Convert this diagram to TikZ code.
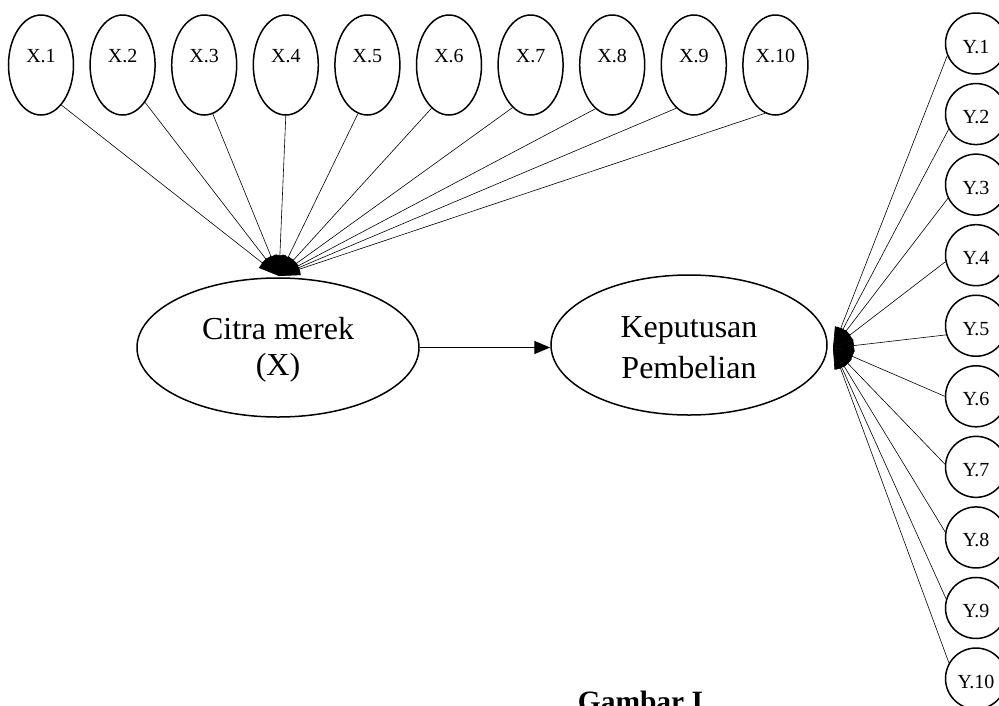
\documentclass[tikz,border=0pt]{standalone}
\usepackage{fontspec}
\setmainfont{Liberation Serif}
\usetikzlibrary{shapes.geometric,arrows.meta}
\begin{document}
\begin{tikzpicture}[x=1pt,y=-1pt,
  xell/.style={ellipse,draw,line width=1.5pt,minimum width=65pt,minimum height=100pt,inner sep=0pt},
  yell/.style={ellipse,draw,line width=1.5pt,minimum width=61pt,minimum height=61pt,inner sep=0pt},
  bigell/.style={ellipse,draw,line width=1.5pt,inner sep=0pt},
  smalltxt/.style={anchor=base,inner sep=0pt,font=\fontsize{20}{24}\selectfont},
  bigtxt/.style={anchor=base,inner sep=0pt,font=\fontsize{32}{38}\selectfont},
  link/.style={line width=0.6pt,-{Triangle[length=21pt,width=12pt]}},
  mainarrow/.style={line width=1.3pt,-{Triangle[length=16pt,width=13pt]}},
]
\useasboundingbox (0,0) rectangle (999,705);
\clip (0,0) rectangle (999,705);
\fill[white] (0,0) rectangle (999,705);

% indicator ellipses X
\foreach \i in {1,...,10} {
  \pgfmathsetmacro\cx{41+81.6*(\i-1)}
  \node[xell] (X\i) at (\cx,65) {};
  \node[smalltxt] (XT\i) at (\cx,62) {X.\i};
}
% indicator circles Y
\foreach \i in {1,...,10} {
  \pgfmathsetmacro\cy{43.5+70.56*(\i-1)}
  \pgfmathsetmacro\by{\cy+9.5}
  \node[yell] (Y\i) at (976,\cy) {};
  \node[smalltxt] (YT\i) at (976,\by) {Y.\i};
}

% latent variables
\node[bigell,minimum width=282pt,minimum height=139pt] (cx) at (278,347.5) {};
\node[bigtxt] (cxa) at (278,339) {Citra merek};
\node[bigtxt] (cxb) at (278,375) {(X)};
\node[bigell,minimum width=276pt,minimum height=140pt] (kp) at (689,345) {};
\node[bigtxt] (kpa) at (689,337) {Keputusan};
\node[bigtxt] (kpb) at (689,378) {Pembelian};

\coordinate (xhub) at (279,276);
\coordinate (yhub) at (833,348);

\foreach \i/\a in {1/297,2/301,3/280,4/270,5/259,6/248,7/247,8/249,9/248,10/258}
  \draw[link] (X\i.\a) -- (xhub);
\foreach \i/\a in {1/203,2/209,3/206,4/192,5/197,6/180,7/175,8/170,9/163,10/150}
  \draw[link] (Y\i.\a) -- (yhub);

\draw[mainarrow] (cx.east) -- (cx.east -| kp.west);

\node[anchor=base,inner sep=0pt,font=\bfseries\fontsize{29.5}{35}\selectfont] (cap) at (640.5,711.5) {Gambar I};
\end{tikzpicture}
\end{document}
